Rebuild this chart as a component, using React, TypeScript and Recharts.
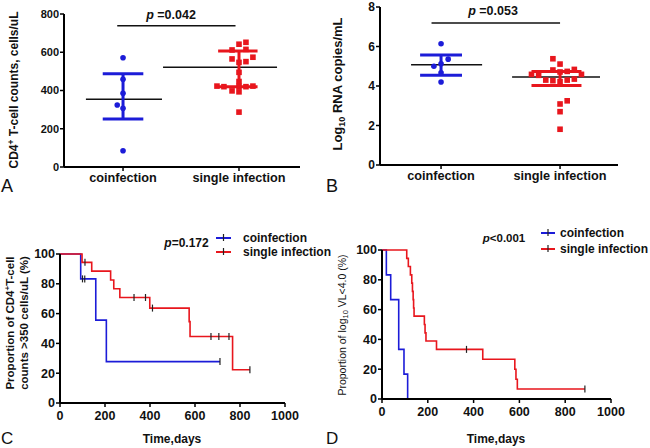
import React from 'react';
import { ScatterChart, Scatter, XAxis, YAxis, ReferenceLine, ComposedChart, Line } from 'recharts';

const BLUE = '#1c1cd8';
const RED = '#e8161d';
const DARK = '#222';
const FONT = 'Arial, "Liberation Sans", Helvetica, sans-serif';

const groups = ['coinfection', 'single infection'];

// ---- Panel A: CD4+ T-cell counts ----
const aCoinX = [1, 1, 1, 0.95, 1, 1];
const aCoinY = [571, 459, 385, 324, 307, 85];
const aSingleX = [2.06, 2.0, 1.94, 2.06, 1.94, 2.06, 2.0, 2.12, 2.0, 2.0, 1.81, 1.87, 2.0, 2.06, 2.12, 1.94, 2.0, 2.0];
const aSingleY = [652, 642, 612, 615, 565, 551, 547, 574, 495, 447, 423, 420, 422, 420, 423, 398, 393, 287];
const aMean = [354, 521];
const aLow = [251, 420];
const aHigh = [488, 607];
const aTicks = [0, 200, 400, 600, 800];
const aSig = 739;
const aPText = '=0.042';

// ---- Panel B: Log10 RNA copies/mL ----
const bCoinX = [1, 1.06, 1, 0.94, 1, 1];
const bCoinY = [6.14, 5.36, 5.13, 5.0, 4.67, 4.2];
const bSingleX = [1.94, 2.0, 1.76, 1.82, 1.94, 2.06, 2.12, 2.0, 2.18, 1.88, 1.94, 2.0, 2.06, 2.12, 2.06, 2.0, 2.0, 2.0];
const bSingleY = [5.38, 5.11, 4.59, 4.54, 4.81, 4.74, 4.84, 4.71, 4.59, 4.30, 4.27, 4.22, 4.30, 4.35, 3.25, 3.09, 2.70, 1.81];
const bMean = [5.08, 4.45];
const bLow = [4.55, 4.03];
const bHigh = [5.57, 4.74];
const bTicks = [0, 2, 4, 6, 8];
const bSig = 7.19;
const bPText = '=0.053';

// ---- Panel C: CD4 > 350 survival ----
const cBlueT = [0, 92, 159, 206, 711];
const cBlueS = [100, 83.3, 55.6, 27.8, 27.8];
const cBlueCensT = [100, 110, 711];
const cBlueCensS = [83.3, 83.3, 27.8];
const cRedT = [0, 98, 141, 225, 239, 266, 399, 574, 578, 767, 844];
const cRedS = [100, 94.4, 88.5, 82.6, 76.7, 70.8, 63.7, 54.6, 44.6, 22.3, 22.3];
const cRedCensT = [111, 329, 380, 411, 671, 706, 751, 844];
const cRedCensS = [94.4, 70.8, 70.8, 63.7, 44.6, 44.6, 44.6, 22.3];
const cPText = '=0.172';

// ---- Panel D: log10 VL < 4.0 ----
const dBlueT = [0, 19, 38, 73, 96, 112];
const dBlueS = [100, 83.3, 66.7, 33.3, 16.7, 0];
const dRedT = [0, 108, 115, 124, 130, 133, 136, 138, 140, 185, 188, 192, 238, 440, 580, 585, 591, 886];
const dRedS = [100, 94.4, 88.9, 83.3, 77.8, 72.2, 66.7, 61.1, 55.6, 50, 44.4, 38.9, 33.3, 26.7, 20, 13.3, 6.7, 6.7];
const dRedCensT = [369, 886];
const dRedCensS = [33.3, 6.7];
const dPText = '<0.001';

const timeTicks = [0, 200, 400, 600, 800, 1000];
const pctTicks = [0, 20, 40, 60, 80, 100];

const pts = (xs: number[], ys: number[]) => xs.map((x, i) => ({ x, y: ys[i] }));
const km = (ts: number[], ss: number[]) => ts.map((t, i) => ({ t, s: ss[i] }));

const Circle = (p: any) => <circle cx={p.cx} cy={p.cy} r={2.8} fill={BLUE} />;
const Square = (p: any) => <rect x={p.cx - 2.8} y={p.cy - 2.8} width={5.6} height={5.6} fill={RED} />;
const Cens = (p: any) => <line x1={p.cx} x2={p.cx} y1={p.cy - 3.5} y2={p.cy + 3.5} stroke={DARK} strokeWidth={1.2} />;

type ScatterProps = {
  left: number;
  yWidth: number;
  right: number;
  top: number;
  xHeight: number;
  xDomain: [number, number];
  yDomain: [number, number];
  yTicks: number[];
  tickFont: number;
  coin: { x: number; y: number }[];
  single: { x: number; y: number }[];
  mean: number[];
  low: number[];
  high: number[];
  meanSpan: [number, number][];
  capSpan: [number, number][];
  sig: number;
  sigSpan: [number, number];
};

function ScatterPanel(props: ScatterProps) {
  const { left, yWidth, right, top, xHeight, xDomain, yDomain, yTicks, tickFont, coin, single, mean, low, high, meanSpan, capSpan, sig, sigSpan } = props;
  const colors = [BLUE, RED];
  const axisStyle = { stroke: '#000', strokeWidth: 2 };
  return (
    <div style={{ position: 'absolute', left, top: 0 }}>
      <ScatterChart width={325} height={224} margin={{ top, right, bottom: 0, left: 0 }}>
        <XAxis
          type="number"
          dataKey="x"
          domain={xDomain}
          ticks={[1, 2]}
          tickFormatter={(v: number) => groups[Math.round(v) - 1]}
          height={xHeight}
          axisLine={axisStyle}
          tickLine={{ stroke: '#000', strokeWidth: 1.5 }}
          tickSize={4}
          tickMargin={2}
          interval={0}
          tick={{ fill: '#111', fontSize: 12.7, fontWeight: 700, fontFamily: FONT }}
        />
        <YAxis
          type="number"
          dataKey="y"
          domain={yDomain}
          ticks={yTicks}
          width={yWidth}
          axisLine={axisStyle}
          tickLine={{ stroke: '#000', strokeWidth: 1.5 }}
          tickSize={4}
          tickMargin={1}
          interval={0}
          tick={{ fill: '#111', fontSize: tickFont, fontWeight: 700, fontFamily: FONT }}
        />
        <ReferenceLine segment={[{ x: sigSpan[0], y: sig }, { x: sigSpan[1], y: sig }]} stroke="#111" strokeWidth={1.5} ifOverflow="visible" />
        {[0, 1].map((g) => (
          <ReferenceLine key={'m' + g} segment={[{ x: meanSpan[g][0], y: mean[g] }, { x: meanSpan[g][1], y: mean[g] }]} stroke="#111" strokeWidth={1.5} ifOverflow="visible" />
        ))}
        {[0, 1].map((g) => (
          <ReferenceLine key={'v' + g} segment={[{ x: g + 1, y: low[g] }, { x: g + 1, y: high[g] }]} stroke={colors[g]} strokeWidth={3} ifOverflow="visible" />
        ))}
        {[0, 1].map((g) => (
          <ReferenceLine key={'l' + g} segment={[{ x: capSpan[g][0], y: low[g] }, { x: capSpan[g][1], y: low[g] }]} stroke={colors[g]} strokeWidth={3} ifOverflow="visible" />
        ))}
        {[0, 1].map((g) => (
          <ReferenceLine key={'h' + g} segment={[{ x: capSpan[g][0], y: high[g] }, { x: capSpan[g][1], y: high[g] }]} stroke={colors[g]} strokeWidth={3} ifOverflow="visible" />
        ))}
        <Scatter data={coin} shape={Circle} isAnimationActive={false} />
        <Scatter data={single} shape={Square} isAnimationActive={false} />
      </ScatterChart>
    </div>
  );
}

type KMProps = {
  left: number;
  yWidth: number;
  right: number;
  top: number;
  blue: { t: number; s: number }[];
  red: { t: number; s: number }[];
  blueCens: { t: number; s: number }[];
  redCens: { t: number; s: number }[];
};

function KMPanel(props: KMProps) {
  const { left, yWidth, right, top, blue, red, blueCens, redCens } = props;
  const axisStyle = { stroke: '#000', strokeWidth: 2 };
  const tick = { fill: '#111', fontSize: 12.5, fontWeight: 700, fontFamily: FONT };
  return (
    <div style={{ position: 'absolute', left, top: 224 }}>
      <ComposedChart width={325} height={224} margin={{ top, right, bottom: 0, left: 0 }}>
        <XAxis type="number" dataKey="t" domain={[0, 1000]} ticks={timeTicks} height={224 - top - 149} axisLine={axisStyle} tickLine={{ stroke: '#000', strokeWidth: 1.5 }} tickSize={4} tickMargin={4} interval={0} tick={tick} />
        <YAxis type="number" domain={[0, 100]} ticks={pctTicks} width={yWidth} axisLine={axisStyle} tickLine={{ stroke: '#000', strokeWidth: 1.5 }} tickSize={4} tickMargin={1} interval={0} tick={tick} />
        <Line data={blue} dataKey="s" type="stepAfter" stroke={BLUE} strokeWidth={1.6} dot={false} isAnimationActive={false} />
        <Line data={red} dataKey="s" type="stepAfter" stroke={RED} strokeWidth={1.6} dot={false} isAnimationActive={false} />
        <Scatter data={blueCens} dataKey="s" shape={Cens} isAnimationActive={false} />
        <Scatter data={redCens} dataKey="s" shape={Cens} isAnimationActive={false} />
      </ComposedChart>
    </div>
  );
}

function LegendItem({ x1, x2, y, color, label, textX }: { x1: number; x2: number; y: number; color: string; label: string; textX: number }) {
  const mid = (x1 + x2) / 2;
  return (
    <g>
      <line x1={x1} x2={x2} y1={y} y2={y} stroke={color} strokeWidth={2} />
      <line x1={mid} x2={mid} y1={y - 4} y2={y + 3} stroke={DARK} strokeWidth={1.2} />
      <text x={textX} y={y + 3.8} fontSize={12} fontWeight={700} fill="#111" fontFamily={FONT}>{label}</text>
    </g>
  );
}

export default function App() {
  return (
    <div style={{ position: 'absolute', left: 0, top: 0, width: 650, height: 448, background: '#fff', overflow: 'hidden' }}>
      <ScatterPanel
        left={0}
        yWidth={64}
        right={25}
        top={14}
        xHeight={57}
        xDomain={[0.491, 2.526]}
        yDomain={[0, 800]}
        yTicks={aTicks}
        tickFont={11}
        coin={pts(aCoinX, aCoinY)}
        single={pts(aSingleX, aSingleY)}
        mean={aMean}
        low={aLow}
        high={aHigh}
        meanSpan={[[0.68, 1.336], [1.345, 2.328]]}
        capSpan={[[0.825, 1.175], [1.82, 2.16]]}
        sig={aSig}
        sigSpan={[0.95, 1.97]}
      />
      <ScatterPanel
        left={325}
        yWidth={55}
        right={32}
        top={7}
        xHeight={59}
        xDomain={[0.487, 2.487]}
        yDomain={[0, 8]}
        yTicks={bTicks}
        tickFont={12}
        coin={pts(bCoinX, bCoinY)}
        single={pts(bSingleX, bSingleY)}
        mean={bMean}
        low={bLow}
        high={bHigh}
        meanSpan={[[0.748, 1.345], [1.597, 2.336]]}
        capSpan={[[0.824, 1.176], [1.76, 2.18]]}
        sig={bSig}
        sigSpan={[0.92, 2.0]}
      />
      <KMPanel left={0} yWidth={60} right={40} top={30} blue={km(cBlueT, cBlueS)} red={km(cRedT, cRedS)} blueCens={km(cBlueCensT, cBlueCensS)} redCens={km(cRedCensT, cRedCensS)} />
      <KMPanel left={325} yWidth={57} right={39} top={26} blue={km(dBlueT, dBlueS)} red={km(dRedT, dRedS)} blueCens={[]} redCens={km(dRedCensT, dRedCensS)} />
      <svg width={650} height={448} style={{ position: 'absolute', left: 0, top: 0, pointerEvents: 'none' }} fontFamily={FONT}>
        {/* panel letters */}
        <text x={1} y={192} fontSize={18} fill="#111">A</text>
        <text x={326} y={192} fontSize={18} fill="#111">B</text>
        <text x={1} y={444} fontSize={17} fill="#111">C</text>
        <text x={326} y={444} fontSize={17} fill="#111">D</text>

        {/* p-values */}
        <text x={171} y={18.5} textAnchor="middle" fontSize={12.5} fontWeight={700} fill="#111">
          <tspan fontStyle="italic">p</tspan> {aPText}
        </text>
        <text x={493} y={15} textAnchor="middle" fontSize={12.5} fontWeight={700} fill="#111">
          <tspan fontStyle="italic">p</tspan> {bPText}
        </text>
        <text x={186.5} y={247} textAnchor="middle" fontSize={12} fontWeight={700} fill="#111">
          <tspan fontStyle="italic">p</tspan>{cPText}
        </text>
        <text x={504} y={242} textAnchor="middle" fontSize={11.5} fontWeight={700} fill="#111">
          <tspan fontStyle="italic">p</tspan>{dPText}
        </text>

        {/* legends */}
        <LegendItem x1={216} x2={231} y={238} color={BLUE} label="coinfection" textX={243} />
        <LegendItem x1={216} x2={231} y={252} color={RED} label="single infection" textX={243} />
        <LegendItem x1={541} x2={555} y={233} color={BLUE} label="coinfection" textX={560} />
        <LegendItem x1={541} x2={555} y={249} color={RED} label="single infection" textX={560} />

        {/* y-axis titles */}
        <text transform="translate(18,90) rotate(-90)" textAnchor="middle" fontSize={12} fontWeight={700} fill="#111">
          CD4<tspan dy={-4} fontSize={8.5}>+</tspan><tspan dy={4}> T-cell counts, cells/uL</tspan>
        </text>
        <text transform="translate(342,84) rotate(-90)" textAnchor="middle" fontSize={13} fontWeight={700} fill="#111">
          Log<tspan dy={3} fontSize={9}>10</tspan><tspan dy={-3}> RNA copies/mL</tspan>
        </text>
        <text transform="translate(13.6,323) rotate(-90)" textAnchor="middle" fontSize={11.5} fontWeight={700} fill="#111">
          Proportion of CD4<tspan dy={-4} fontSize={8}>+</tspan><tspan dy={4}>T-cell</tspan>
        </text>
        <text transform="translate(28,323) rotate(-90)" textAnchor="middle" fontSize={11.5} fontWeight={700} fill="#111">
          counts &gt;350 cells/uL (%)
        </text>
        <text transform="translate(345.5,325) rotate(-90)" textAnchor="middle" fontSize={10.5} fill="#111">
          Proportion of log<tspan dy={2.5} fontSize={7.5}>10</tspan><tspan dy={-2.5}> VL&lt;4.0 (%)</tspan>
        </text>

        {/* x-axis titles */}
        <text x={172} y={443} textAnchor="middle" fontSize={12} fontWeight={700} fill="#111">Time,days</text>
        <text x={496} y={443} textAnchor="middle" fontSize={12} fontWeight={700} fill="#111">Time,days</text>
      </svg>
    </div>
  );
}
